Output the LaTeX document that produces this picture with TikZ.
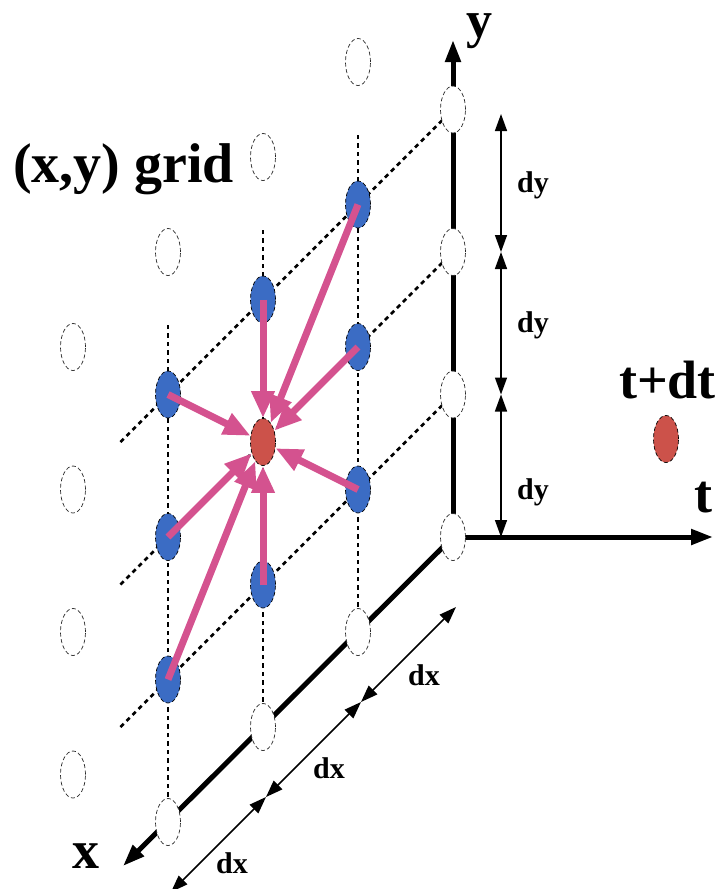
\documentclass[tikz,border=0pt]{standalone}
\usepackage{fontspec}
\setmainfont{Liberation Serif}
\usetikzlibrary{shapes.geometric,arrows.meta,calc,backgrounds}
\definecolor{ptblue}{RGB}{59,108,196}
\definecolor{ptred}{RGB}{204,82,74}
\definecolor{ptpink}{RGB}{212,82,143}
\begin{document}
\begin{tikzpicture}[x=1pt,y=-1pt,
  pt/.style={ellipse, minimum width=25pt, minimum height=47pt, inner sep=0pt, draw=black, line width=0.7pt, dash pattern=on 4pt off 2.5pt},
  wpt/.style={pt, fill=white, draw=black!85},
  bpt/.style={pt, fill=ptblue},
  rpt/.style={pt, fill=ptred},
  gridline/.style={line width=2.5pt, dash pattern=on 4.5pt off 4pt},
  axis/.style={line width=5pt, -{Triangle[length=22pt,width=15pt]}},
  dim/.style={line width=1.5pt, {Triangle[length=17pt,width=12pt]}-{Triangle[length=17pt,width=12pt]}},
  flow/.style={draw=ptpink, line width=7pt, -{Triangle[length=27pt,width=22pt]}},
  lab/.style={font=\bfseries\fontsize{54}{60}\selectfont, inner sep=0pt},
  dlab/.style={font=\bfseries\fontsize{30}{34}\selectfont, inner sep=0pt}
]
\useasboundingbox (0,0) rectangle (724,889);
% column 0
\node[wpt] (p01) at (73,774.5) {};
\node[wpt] (p02) at (73,632) {};
\node[wpt] (p03) at (73,489.5) {};
\node[wpt] (p04) at (73,347) {};
% column 1
\node[wpt] (p10) at (168,822) {};
\node[bpt] (p11) at (168,679.5) {};
\node[bpt] (p12) at (168,537) {};
\node[bpt] (p13) at (168,394.5) {};
\node[wpt] (p14) at (168,252) {};
% column 2
\node[wpt] (p20) at (263,727) {};
\node[bpt] (p21) at (263,584.5) {};
\node[rpt] (p22) at (263,442) {};
\node[bpt] (p23) at (263,299.5) {};
\node[wpt] (p24) at (263,157) {};
% column 3
\node[wpt] (p30) at (358,632) {};
\node[bpt] (p31) at (358,489.5) {};
\node[bpt] (p32) at (358,347) {};
\node[bpt] (p33) at (358,204.5) {};
\node[wpt] (p34) at (358,62) {};
% column 4 (on the y axis)
\node[wpt] (p40) at (453,537) {};
\node[wpt] (p41) at (453,394.5) {};
\node[wpt] (p42) at (453,252) {};
\node[wpt] (p43) at (453,109.5) {};
% t+dt point
\node[rpt] (tdot) at (666,439) {};

\coordinate (ytip) at (453,40);
\coordinate (ttip) at (713,537);
\coordinate (xtip) at ($(p10.center)+(-45,44)$);

\begin{pgfonlayer}{background}
  % vertical dotted lines
  \foreach \i in {1,2,3}{
    \draw[gridline] (p\i0.center) -- ($(p\i3.center)+(0,-71)$);
  }
  % oblique dotted lines
  \foreach \j in {1,2,3}{
    \draw[gridline] ($(p1\j.center)+(-47.5,47.5)$) -- (p4\j.center);
  }
  % axes
  \draw[axis] (p40.center) -- (xtip);
  \draw[axis] (p40.center) -- (ytip);
  \draw[axis] (p40.center) -- (ttip);
\end{pgfonlayer}

% dy dimension arrows
\coordinate (dy0) at (501,537);
\coordinate (dy1) at (501,394.5);
\coordinate (dy2) at (501,252);
\coordinate (dy3) at (501,114);
\draw[dim] (dy3) -- (dy2);
\draw[dim] (dy2) -- (dy1);
\draw[dim] (dy1) -- (dy0);
% dx dimension arrows
\coordinate (dx0) at ($(p40.center)+(3,70)$);
\coordinate (dx1) at ($(p30.center)+(3,70)$);
\coordinate (dx2) at ($(p20.center)+(3,70)$);
\coordinate (dx3) at ($(p10.center)+(3,70)$);
\draw[dim] (dx0) -- (dx1);
\draw[dim] (dx1) -- (dx2);
\draw[dim] (dx2) -- (dx3);

% pink flow arrows
\draw[flow] (p13.center) -- (p22);
\draw[flow] (p23.center) -- (p22);
\draw[flow] (p33.center) -- (p22);
\draw[flow] (p32.center) -- (p22);
\draw[flow] (p31.center) -- (p22);
\draw[flow] (p12.center) -- (p22);
\draw[flow] (p21.center) -- (p22);
\draw[flow] (p11.center) -- (p22);

% labels
\node[lab, font=\bfseries\fontsize{56}{60}\selectfont, anchor=base west] (gridlab) at (13,182) {(x,y) grid};
\node[lab, font=\bfseries\fontsize{52}{56}\selectfont, anchor=base west] (ylab) at (466,37) {y};
\node[lab, anchor=base west] (xlab) at (72,868) {x};
\node[lab, anchor=base west] (tlab) at (694,512) {t};
\node[lab, anchor=base west] (tdtlab) at (619,398) {t+dt};
\node[dlab, anchor=base west] (dya) at (517,192) {dy};
\node[dlab, anchor=base west] (dyb) at (517,332) {dy};
\node[dlab, anchor=base west] (dyc) at (517,499) {dy};
\node[dlab, anchor=base west] (dxa) at (408,685) {dx};
\node[dlab, anchor=base west] (dxb) at (313,778) {dx};
\node[dlab, anchor=base west] (dxc) at (216,873) {dx};
\end{tikzpicture}
\end{document}
